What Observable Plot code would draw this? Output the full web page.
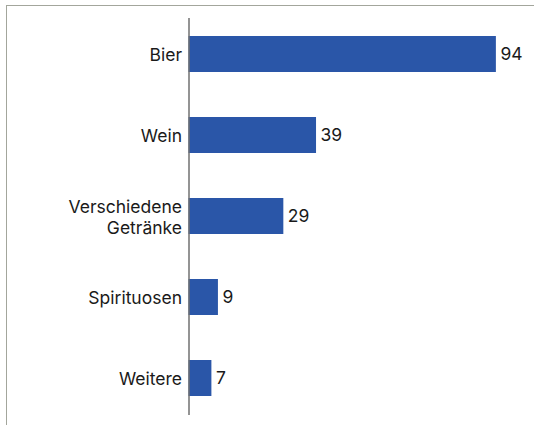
<!DOCTYPE html>
<html>
<head>
<meta charset="utf-8">
<script src="https://cdn.jsdelivr.net/npm/d3@7"></script>
<script src="https://cdn.jsdelivr.net/npm/@observablehq/plot@0.6"></script>
<style>
  html, body { margin: 0; padding: 0; background: #fff; overflow: hidden; }
  #wrap { position: relative; width: 534px; height: 425px; }
  #frame { position: absolute; left: 6px; top: 5px; width: 600px; height: 500px;
           border: 1px solid #a3a69c; box-sizing: border-box; }
  #chart { position: absolute; left: 0; top: 0; }
</style>
</head>
<body>
<div id="wrap">
  <div id="frame"></div>
  <div id="chart"></div>
</div>
<script>
const categories = ["Bier", "Wein", "Verschiedene\nGetränke", "Spirituosen", "Weitere"];
const values = [94, 39, 29, 9, 7];

const data = categories.map((c, i) => ({category: c, value: values[i]}));

const font = "Inter, 'Noto Sans', sans-serif";

const chart = Plot.plot({
  width: 534,
  height: 425,
  marginLeft: 188.5,
  marginRight: 18.5,
  marginTop: 13.7,
  marginBottom: 6.3,
  style: {fontFamily: font, background: "transparent", overflow: "visible"},
  x: {domain: [0, 100], axis: null},
  y: {domain: categories, axis: null, paddingInner: 0.556, paddingOuter: 0.278},
  marks: [
    Plot.barX(data, {y: "category", x: "value", fill: "#2a56a8"}),
    Plot.ruleX([0], {stroke: "#707070", strokeWidth: 1.5, insetTop: 4.3, insetBottom: 3.7}),
    Plot.text(data, {
      y: "category", x: 0, text: "category", textAnchor: "end", dx: -7,
      fontSize: 17.5, fill: "#1a1a1a", lineHeight: 1.2
    }),
    Plot.text(data, {
      y: "category", x: "value", text: d => String(d.value), textAnchor: "start", dx: 4,
      fontSize: 17.5, fill: "#1a1a1a"
    })
  ]
});
document.getElementById("chart").appendChild(chart);
</script>
</body>
</html>
